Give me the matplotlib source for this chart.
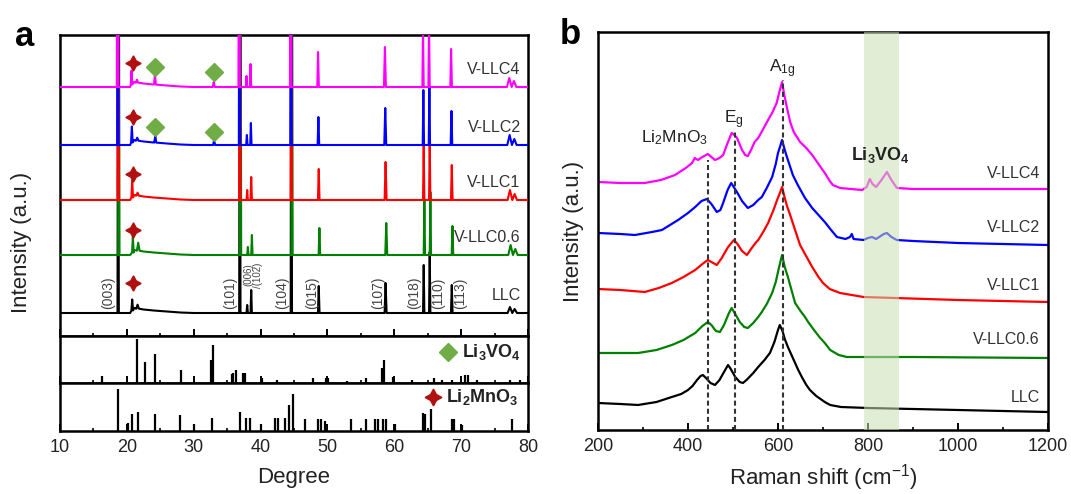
import numpy as np
import matplotlib
matplotlib.use('Agg')
import matplotlib.pyplot as plt
from matplotlib.ticker import MultipleLocator

plt.rcParams['font.family'] = ['Liberation Sans', 'DejaVu Sans']
plt.rcParams['mathtext.fontset'] = 'custom'
plt.rcParams['mathtext.rm'] = 'Liberation Sans'
plt.rcParams['mathtext.it'] = 'Liberation Sans:italic'
plt.rcParams['mathtext.bf'] = 'Liberation Sans:bold'
plt.rcParams['mathtext.default'] = 'regular'

# ---------------- panel a : XRD ----------------
xrd_names = ['LLC', 'V-LLC0.6', 'V-LLC1', 'V-LLC2', 'V-LLC4']
xrd_colors = ['#000000', '#008000', '#ff0000', '#0000ff', '#ff00ff']
xrd_offset = [23, 81, 136, 191, 249]
xrd_shift = [0.0, 0.1, 0.0, -0.05, -0.1]

# broad background after the Li2MnO3 superlattice peak
bg_x = [10, 20.5, 21.1, 21.4, 22.5, 24.0, 26.0, 28.0, 30.0, 80]
bg_y = [0, 0, 5, 4.5, 3.5, 2.5, 1.5, 0.5, 0, 0]

peak_pos = [18.7, 20.8, 21.6, 24.3, 33.1, 36.9, 38.0, 38.6, 44.6, 48.7, 58.7, 64.4, 65.3, 68.6, 77.3, 78.0]
peak_base = [0, 2.5, 4.3, 2.4, 0, 0, 0, 0, 0, 0, 0, 0, 0, 0, 0, 0]
peak_w = [0.1, 0.12, 0.2, 0.15, 0.15, 0.1, 0.1, 0.1, 0.1, 0.12, 0.15, 0.1, 0.1, 0.12, 0.35, 0.35]
h_llc = [400, 11, 4, 0, 0, 400, 8, 23, 400, 27, 30, 48, 61, 28, 6, 4]
h_v06 = [400, 16, 8, 0, 0, 400, 8, 20, 400, 27, 32, 55, 63, 29, 10, 6]
h_v1 = [400, 17, 3, 0, 0, 400, 10, 23, 400, 31, 38, 58, 60, 35, 10, 6]
h_v2 = [400, 16, 3, 7, 5, 400, 10, 22, 400, 28, 37, 55, 59, 34, 10, 6]
h_v4 = [400, 14, 3, 10, 5, 400, 11, 23, 400, 35, 40, 60, 65, 38, 9, 6]
xrd_heights = [h_llc, h_v06, h_v1, h_v2, h_v4]

hkl_labels = ['(003)', '(101)', '(006)\n/(102)', '(104)', '(015)', '(107)', '(018)', '(110)', '(113)']
hkl_x = [17.2, 35.4, 38.9, 43.2, 47.7, 57.6, 62.9, 66.5, 69.8]

star_x = [20.9, 20.9, 20.9, 20.9, 20.9]
star_y = [53, 106, 162, 219, 273]
diamond_x = [24.2, 33.0, 24.2, 33.0]
diamond_y = [209, 204, 269, 264]

# reference patterns (stick heights)
lvo_pos = [16.3, 21.5, 22.7, 24.2, 28.1, 32.6, 32.9, 35.7, 35.9, 36.3, 37.4, 37.7, 40.2, 42.5,
           47.8, 49.8, 50.1, 52.9, 55.8, 58.2, 58.4, 59.8, 62.6, 65.9, 67.2, 68.7, 70.6, 71.0,
           72.3, 77.3, 78.8]
lvo_int = [7, 44, 21, 29, 13, 23, 38, 9, 10, 13, 10, 10, 5, 3,
           5, 5, 5, 2, 5, 15, 23, 6, 3, 5, 3, 3, 8, 8,
           3, 3, 3]
lmo_pos = [18.7, 20.2, 20.8, 21.7, 24.2, 28.0, 30.0, 32.8, 36.9, 37.8, 38.4, 40.1, 42.1, 42.6,
           43.6, 44.3, 44.8, 46.6, 48.6, 49.1, 49.7, 53.6, 55.7, 57.1, 57.6, 58.3, 58.8, 60.1,
           64.3, 64.6, 65.5, 68.6, 68.9, 70.1, 77.6]
lmo_int = [42, 8, 17, 19, 17, 16, 7, 13, 19, 13, 13, 7, 13, 13,
           13, 26, 37, 12, 12, 12, 10, 12, 12, 12, 12, 12, 12, 7,
           18, 17, 22, 12, 12, 6, 12]

# ---------------- panel b : Raman ----------------
raman_names = ['LLC', 'V-LLC0.6', 'V-LLC1', 'V-LLC2', 'V-LLC4']
raman_colors = xrd_colors
llc_x = [200, 250, 289, 330, 364, 385, 400, 410, 420, 428, 433, 440, 450, 460, 470, 480, 489, 495, 505,
         515, 522, 530, 545, 556, 570, 582, 592, 600, 604, 610, 615, 622, 635, 645, 653, 663, 671, 685,
         704, 716, 740, 800, 900, 1000, 1100, 1200]
llc_y = [27, 26, 25, 28, 33, 36, 40, 44, 50, 54, 55, 52, 47, 45, 50, 58, 65, 61, 53,
         48, 47, 50, 57, 63, 70, 77, 88, 100, 105, 99, 91, 83, 70, 60, 53, 45, 40, 34,
         28, 25, 23, 22, 21, 20, 19, 18]
v06_x = [200, 250, 289, 330, 364, 390, 416, 432, 444, 452, 462, 471, 480, 490, 497, 505, 515, 525, 533,
         545, 556, 564, 575, 587, 595, 602, 609, 615, 622, 630, 638, 650, 660, 667, 680, 692, 704, 716,
         735, 753, 900, 1200]
v06_y = [77, 77, 77, 80, 85, 90, 97, 104, 108, 105, 99, 98, 105, 116, 122, 116, 108, 103, 102,
         107, 113, 118, 126, 137, 148, 162, 175, 163, 153, 140, 127, 119, 113, 108, 100, 93, 87, 80,
         75, 73, 73, 72]
v1_x = [200, 250, 304, 335, 364, 390, 416, 432, 444, 452, 464, 475, 489, 502, 510, 520, 531, 540, 550,
        556, 567, 578, 590, 598, 605, 609, 615, 620, 627, 638, 649, 660, 676, 690, 700, 715, 738, 790,
        1000, 1200]
v1_y = [141, 140, 138, 142, 147, 153, 160, 166, 170, 168, 165, 172, 183, 190, 186, 179, 175, 181, 187,
        190, 198, 207, 220, 230, 238, 243, 232, 224, 215, 200, 185, 176, 163, 153, 147, 141, 137, 133,
        130, 128]
v2_x = [200, 250, 282, 320, 342, 360, 378, 400, 416, 430, 442, 452, 464, 472, 478, 488, 496, 503, 510,
        520, 533, 545, 556, 564, 575, 587, 595, 600, 605, 609, 615, 622, 633, 644, 660, 676, 690, 704,
        718, 731, 750, 760, 764, 768, 790, 800, 809, 818, 835, 842, 852, 864, 900, 1000, 1200]
v2_y = [197, 196, 195, 198, 200, 205, 210, 217, 223, 229, 231, 226, 218, 220, 227, 240, 247, 242, 237,
        229, 222, 225, 230, 233, 242, 253, 266, 277, 284, 290, 280, 270, 255, 245, 232, 222, 215, 208,
        200, 193, 191, 193, 196, 191, 190, 192, 193, 191, 196, 197, 193, 190, 189, 187, 185]
v4_x = [200, 250, 304, 340, 371, 395, 409, 415, 422, 432, 444, 452, 460, 470, 478, 488, 497, 503, 509,
        520, 527, 533, 540, 548, 556, 566, 578, 588, 597, 603, 609, 614, 620, 627, 635, 649, 663, 676,
        690, 704, 715, 722, 738, 787, 797, 804, 810, 818, 830, 842, 852, 864, 900, 1000, 1200]
v4_y = [248, 247, 247, 250, 255, 262, 267, 272, 270, 273, 276, 273, 270, 272, 275, 287, 297, 295, 292,
        280, 275, 274, 280, 288, 292, 300, 310, 318, 327, 338, 348, 335, 322, 308, 298, 288, 282, 275,
        266, 257, 249, 245, 242, 240, 243, 251, 246, 243, 250, 258, 250, 242, 241, 241, 241]
raman_x = [llc_x, v06_x, v1_x, v2_x, v4_x]
raman_y = [llc_y, v06_y, v1_y, v2_y, v4_y]
raman_label_y = [33, 90, 145, 202, 257]

mode_x = [444, 504, 611]
mode_top = [270, 298, 350]
band = (790, 868)


def xrd_curve(heights, shift):
    pts = list(zip(bg_x, bg_y))
    for p, b, w, h in zip(peak_pos, peak_base, peak_w, heights):
        if h <= 0:
            continue
        p = p + shift
        pts += [(p - w, b), (p, b + h), (p + w, b)]
    pts.sort()
    x, y = zip(*pts)
    return np.array(x), np.array(y)


W, H = 1071, 494


def rect(l, t, r, b):
    return [l / W, 1 - b / H, (r - l) / W, (b - t) / H]


fig = plt.figure(figsize=(W / 100, H / 100), dpi=100)
ax1 = fig.add_axes(rect(60, 35, 528, 336))
ax2 = fig.add_axes(rect(60, 336, 528, 383))
ax3 = fig.add_axes(rect(60, 383, 528, 431))
axb = fig.add_axes(rect(598, 32, 1048, 430))

tick_col = '#222222'
for ax in (ax1, ax2, ax3, axb):
    for s in ax.spines.values():
        s.set_linewidth(1.8)
    ax.set_yticks([])
    ax.tick_params(axis='x', which='major', direction='in', length=5, width=1.4,
                   labelsize=13, labelcolor=tick_col, pad=6, top=False)
    ax.tick_params(axis='x', which='minor', direction='in', length=2.5, width=1.2, top=False)

for ax in (ax1, ax2, ax3):
    ax.set_xlim(10, 80)
    ax.xaxis.set_major_locator(MultipleLocator(10))
    ax.xaxis.set_minor_locator(MultipleLocator(5))
ax1.tick_params(labelbottom=False)
ax2.tick_params(labelbottom=False)

ax1.set_ylim(0, 301)
for i in range(5):
    x, y = xrd_curve(xrd_heights[i], xrd_shift[i])
    ax1.plot(x, y + xrd_offset[i], color=xrd_colors[i], lw=1.5, zorder=2 + i)
    ax1.text(78.9, xrd_offset[i] + 18, xrd_names[i], ha='right', va='center',
             fontsize=11.5, color='#333333', zorder=10)

for lab, x in zip(hkl_labels, hkl_x):
    fs = 7 if '\n' in lab else 10
    yy = 61 if '\n' in lab else 43
    ax1.text(x, yy, lab, rotation=90, ha='center', va='center', fontsize=fs,
             color='#444444', linespacing=0.9, zorder=10)

ax1.plot(star_x, star_y, ls='none', marker=(4, 1, 0), ms=11, color='#b01010', zorder=11)
ax1.plot(diamond_x, diamond_y, ls='none', marker='D', ms=9, color='#70ad47', zorder=11)

ax2.set_ylim(0, 47)
ax2.vlines(lvo_pos, 0, lvo_int, color='black', lw=1.6)
ax2.plot([68.0], [31], ls='none', marker='D', ms=9, color='#70ad47')
ax2.text(70.1, 31, 'Li$_3$VO$_4$', ha='left', va='center', fontsize=13,
         fontweight='bold', color='#222222')

ax3.set_ylim(0, 48)
ax3.vlines(lmo_pos, 0, lmo_int, color='black', lw=1.6)
ax3.plot([65.8], [34], ls='none', marker=(4, 1, 0), ms=12, color='#b01010')
ax3.text(67.7, 34, 'Li$_2$MnO$_3$', ha='left', va='center', fontsize=13,
         fontweight='bold', color='#222222')
ax3.set_xlabel('Degree', fontsize=16, color=tick_col, labelpad=8)

fig.text(22 / W, 1 - 242 / H, 'Intensity (a.u.)', rotation=90, ha='center', va='center',
         fontsize=16, color=tick_col)

# panel b
axb.set_xlim(200, 1200)
axb.set_ylim(0, 398)
axb.xaxis.set_major_locator(MultipleLocator(200))
axb.xaxis.set_minor_locator(MultipleLocator(100))
for i in range(5):
    axb.plot(raman_x[i], raman_y[i], color=raman_colors[i], lw=1.6, zorder=2)
    axb.text(1182, raman_label_y[i], raman_names[i], ha='right', va='center',
             fontsize=11.5, color='#333333')
axb.axvspan(band[0], band[1], color='#cae0b4', alpha=0.55, lw=0, zorder=3)
axb.vlines(mode_x, 0, mode_top, colors='#333333', lw=1.5, linestyles=(0, (2.4, 1.5)), zorder=4)
axb.text(371, 292, 'Li$_2$MnO$_3$', ha='center', va='center', fontsize=12.5, color='#222222')
axb.text(502, 310, 'E$_g$', ha='center', va='center', fontsize=12.5, color='#222222')
axb.text(609, 361, 'A$_{1g}$', ha='center', va='center', fontsize=12.5, color='#222222')
axb.text(827, 275, 'Li$_3$VO$_4$', ha='center', va='center', fontsize=13,
         fontweight='bold', color='#222222')
axb.set_xlabel('Raman shift (cm$^{-1}$)', fontsize=16, color=tick_col, labelpad=5)
axb.set_ylabel('Intensity (a.u.)', fontsize=16, color=tick_col, labelpad=10)

fig.text(25 / W, 1 - 36 / H, 'a', fontsize=25, fontweight='bold', ha='center', va='center')
fig.text(570 / W, 1 - 34 / H, 'b', fontsize=25, fontweight='bold', ha='center', va='center')

fig.savefig('out.png', dpi=100)
